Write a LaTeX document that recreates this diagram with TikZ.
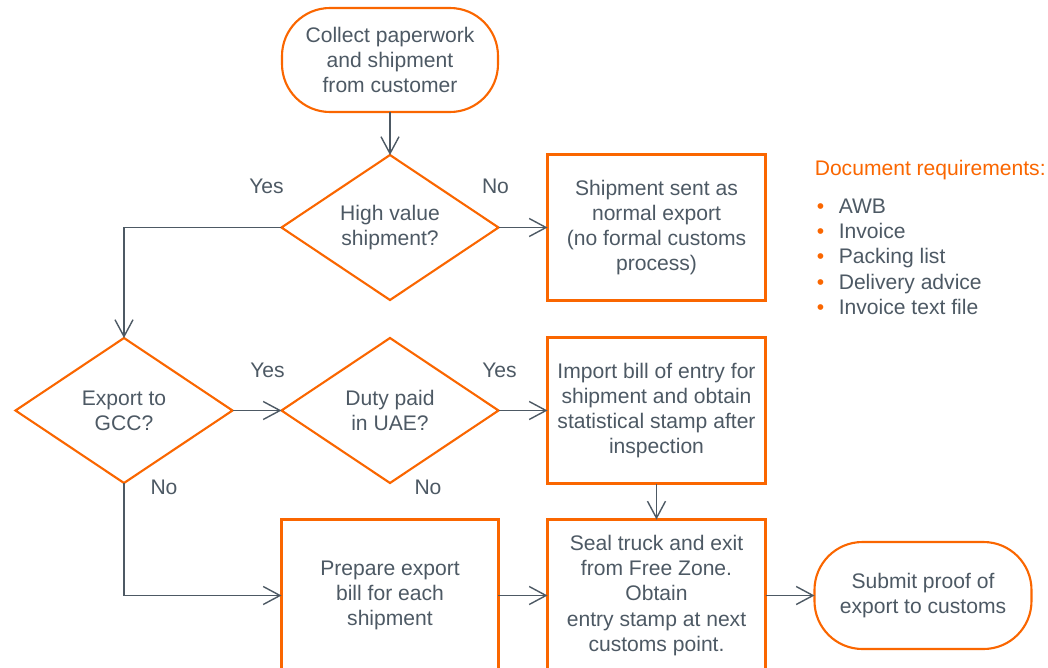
\documentclass[tikz,border=0pt]{standalone}
\usepackage{fontspec}
\setmainfont{Liberation Sans}
\usepackage{tikz}
\usetikzlibrary{arrows.meta,shapes.geometric,positioning}

\definecolor{flowor}{RGB}{250,102,0}
\definecolor{flowtx}{RGB}{77,89,100}
\newcommand{\bul}{\makebox[0.55cm][l]{\textcolor{flowor}{\textbullet}}}

\begin{document}
\begin{tikzpicture}[
	> = {Straight Barb[length=4.2mm, width=4.5mm]}, % open arrow head
	node distance = 1.225cm, % gap between shapes
	font = \fontsize{15}{18}\selectfont,
	text = flowtx,
	T/.style={rectangle, rounded corners=1.2cm, draw=flowor, line width=1.5pt, inner sep=0pt, outer sep=0pt, minimum width=5.4cm, minimum height=2.6cm, align=center},   % start / end
	B/.style={rectangle, draw=flowor, line width=1.5pt, inner sep=0pt, outer sep=0pt, minimum width=5.45cm, minimum height=3.65cm, align=center},                           % process box
	Q/.style={diamond, aspect=1.5, draw=flowor, line width=1.5pt, inner sep=0pt, outer sep=0pt, minimum width=5.425cm, minimum height=3.625cm, align=center},              % decision
	L/.style={inner sep=0pt},                                                                                                                                              % yes / no
	A/.style={->, draw=flowtx, line width=1pt},                                                                                                                            % connector
	]
	\useasboundingbox (-9.75,1.5) rectangle (16.45,-15.175);

	% Nodes and their relative positions
	\node[T] (collect) {Collect paperwork\\and shipment\\from customer};
	\node[Q] (value) [below = 1.075 of collect] {High value\\shipment?};
	\node[B] (normal) [right = of value] {Shipment sent as\\normal export\\(no formal customs\\process)};
	\node[Q] (duty) [below = 0.95 of value] {Duty paid\\in UAE?};
	\node[Q] (gcc) [left = of duty] {Export to\\GCC?};
	\node[B] (import) [right = of duty] {Import bill of entry for\\shipment and obtain\\statistical stamp after\\inspection};
	\node[B, minimum height=3.8cm] (seal) [below = 0.9 of import] {Seal truck and exit\\from Free Zone.\\Obtain\\entry stamp at next\\customs point.};
	\node[B, minimum width=5.425cm, minimum height=3.8cm] (prep) [left = of seal] {Prepare export\\bill for each\\shipment};
	\node[T, minimum width=5.425cm, minimum height=2.675cm] (submit) [right = of seal] {Submit proof of\\export to customs};

	% Yes / No labels
	\node[L] (y1) at ([shift={(-0.375,1.025)}]value.west) {Yes};
	\node[L] (n1) at ([shift={(-0.075,1.025)}]value.east) {No};
	\node[L] (y2) at ([shift={(-0.35,1.0)}]duty.west) {Yes};
	\node[L] (y3) at ([shift={(0.025,1.0)}]duty.east) {Yes};
	\node[L] (n2) at ([shift={(1.0,-0.1)}]gcc.south) {No};
	\node[L] (n3) at ([shift={(0.95,-0.1)}]duty.south) {No};

	% Document list
	\node[L, anchor=base west, text=flowor] (docs) at ([shift={(1.225,-0.525)}]normal.north east) {Document requirements:};
	\node[L, anchor=north west, align=left] (list) at ([shift={(1.275,-1.1)}]normal.north east)
		{\bul AWB\\\bul Invoice\\\bul Packing list\\\bul Delivery advice\\\bul Invoice text file};

	% Paths connecting nodes
	\path[A] (collect) edge (value);
	\path[A] (value) edge (normal);
	\draw[A] (value.west) -| (gcc.north);
	\path[A] (gcc) edge (duty);
	\path[A] (duty) edge (import);
	\path[A] (import) edge (seal);
	\draw[A] (gcc.south) |- (prep.west);
	\path[A] (prep) edge (seal);
	\path[A] (seal) edge (submit);

\end{tikzpicture}
\end{document}
